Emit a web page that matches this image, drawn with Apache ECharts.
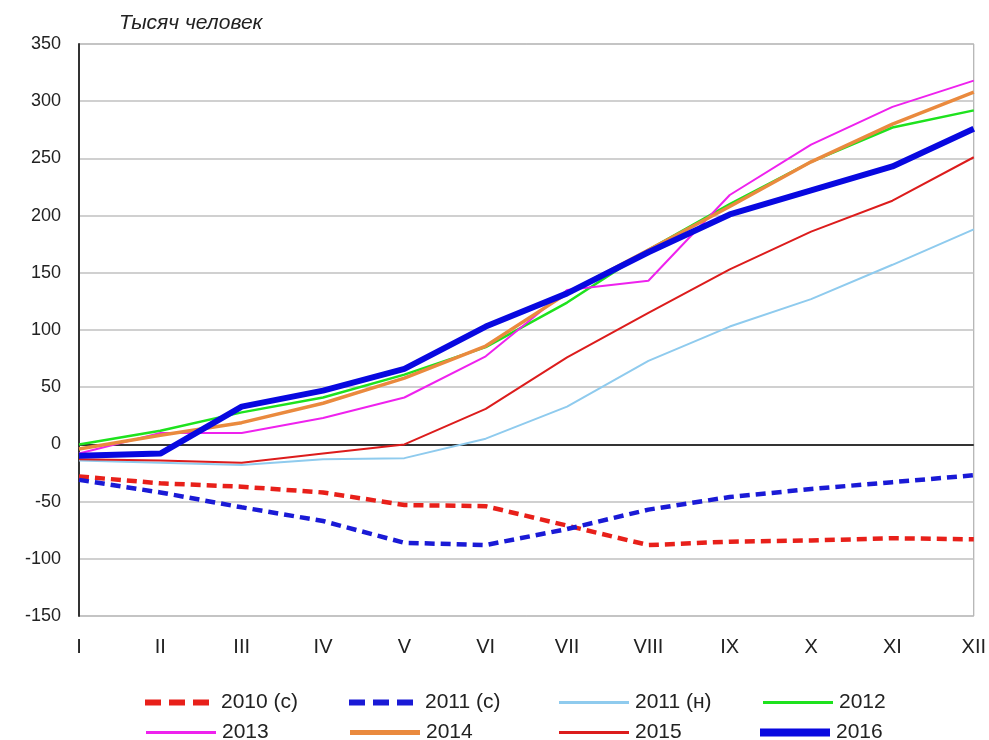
<!DOCTYPE html>
<html><head><meta charset="utf-8">
<script src="https://cdn.jsdelivr.net/npm/echarts@6/dist/echarts.min.js"></script>
<style>html,body{margin:0;padding:0;background:#fff}#c{width:989px;height:740px}</style>
</head><body><div id="c"></div>
<script>
var months = ['I','II','III','IV','V','VI','VII','VIII','IX','X','XI','XII'];
var yTicks = [-150,-100,-50,0,50,100,150,200,250,300,350];
var s2010c = [-28,-34,-37,-42,-53,-54,-71,-88,-85,-84,-82,-83];
var s2011c = [-31,-42,-55,-67,-86,-88,-74,-57,-46,-39,-33,-27];
var s2011n = [-14,-16,-18,-13,-12,5,33,73,103,127,157,188];
var s2012 = [0,12,28,41,61,85,124,170,210,247,277,292];
var s2013 = [-8,10,10,23,41,77,135,143,218,262,295,318];
var s2014 = [-4,8,19,36,58,86,132,170,208,247,280,308];
var s2015 = [-13,-14,-16,-8,0,31,76,115,153,186,213,251];
var s2016 = [-10,-8,33,47,66,103,132,168,201,222,243,276];
var names = ['2010 (с)','2011 (с)','2011 (н)','2012','2013','2014','2015','2016'];

var styles = [
  {c:'#e8201a', w:4.5, t:[10,6], lh:6, dash:true},
  {c:'#1a1ad6', w:4.5, t:[10,6], lh:6, dash:true},
  {c:'#8fcbee', w:2, t:'solid', lh:3},
  {c:'#1ee21e', w:2.5, t:'solid', lh:3},
  {c:'#ee22ee', w:2, t:'solid', lh:3},
  {c:'#ea8a3e', w:3.5, t:'solid', lh:5},
  {c:'#dc1c1c', w:2, t:'solid', lh:3},
  {c:'#0808e0', w:6, t:'solid', lh:8}
];
var datas = [s2010c,s2011c,s2011n,s2012,s2013,s2014,s2015,s2016];
var legendPos = [[140,698],[344,698],[554,698],[758,698],[141,728],[345,728],[554,728],[755,728]];

function iconPath(dash, h){
  if(dash){
    return 'path://M0,0h16v'+h+'h-16zM24,0h16v'+h+'h-16zM48,0h16v'+h+'h-16z';
  }
  return 'path://M0,0L70,0L70,'+h+'L0,'+h+'Z';
}

var series = datas.map(function(d,i){
  var s = {
    name: names[i], type:'line', data:d, showSymbol:false, symbol:'none',
    lineStyle:{color:styles[i].c, width:styles[i].w, type:styles[i].t},
    itemStyle:{color:styles[i].c}, z: 3+i, animation:false
  };
  if(i===0){
    s.markLine = {silent:true, symbol:'none', label:{show:false},
      lineStyle:{color:'#000', width:1.5, type:'solid'}, data:[{yAxis:0}], z:2};
  }
  return s;
});

var legends = names.map(function(n,i){
  var st = styles[i];
  return {data:[{name:n, icon: iconPath(st.dash, st.lh), itemStyle:{color:st.c, borderWidth:0}}],
    left:legendPos[i][0], top:legendPos[i][1]-11, height:22,
    itemWidth: st.dash ? 64 : 70, itemHeight: st.lh, itemGap:5,
    textStyle:{fontFamily:'Liberation Sans, Arial', fontSize:21, color:'#222', padding:[0,0,0, st.dash ? 7 : 1]},
    selectedMode:false};
});

var chart = echarts.init(document.getElementById('c'), null, {renderer:'canvas'});
chart.setOption({
  animation:false,
  backgroundColor:'#fff',
  grid:{left:79, right:14, top:44, bottom:124, show:true, borderColor:'#a0a0a0', borderWidth:1, containLabel:false},
  title:{text:'Тысяч человек', left:114, top:8, textStyle:{fontFamily:'Liberation Sans, Arial', fontStyle:'italic', fontWeight:'normal', fontSize:21, color:'#222'}},
  legend: legends,
  xAxis:{type:'category', data:months, boundaryGap:false,
    axisLine:{show:false}, axisTick:{show:false}, splitLine:{show:false},
    axisLabel:{margin:21, fontFamily:'Liberation Sans Narrow, Liberation Sans, Arial', fontSize:20, color:'#222'}},
  yAxis:{type:'value', min:-150, max:350, interval:50,
    axisLine:{show:true, lineStyle:{color:'#333', width:2}}, axisTick:{show:false},
    splitLine:{show:true, lineStyle:{color:'#c0c0c0', width:1.5}},
    axisLabel:{margin:18, fontFamily:'Liberation Sans, Arial', fontSize:18, color:'#222',
      formatter:function(v){return yTicks.indexOf(v)>=0 ? String(v) : '';}}},
  series: series
});
</script>
</body></html>
